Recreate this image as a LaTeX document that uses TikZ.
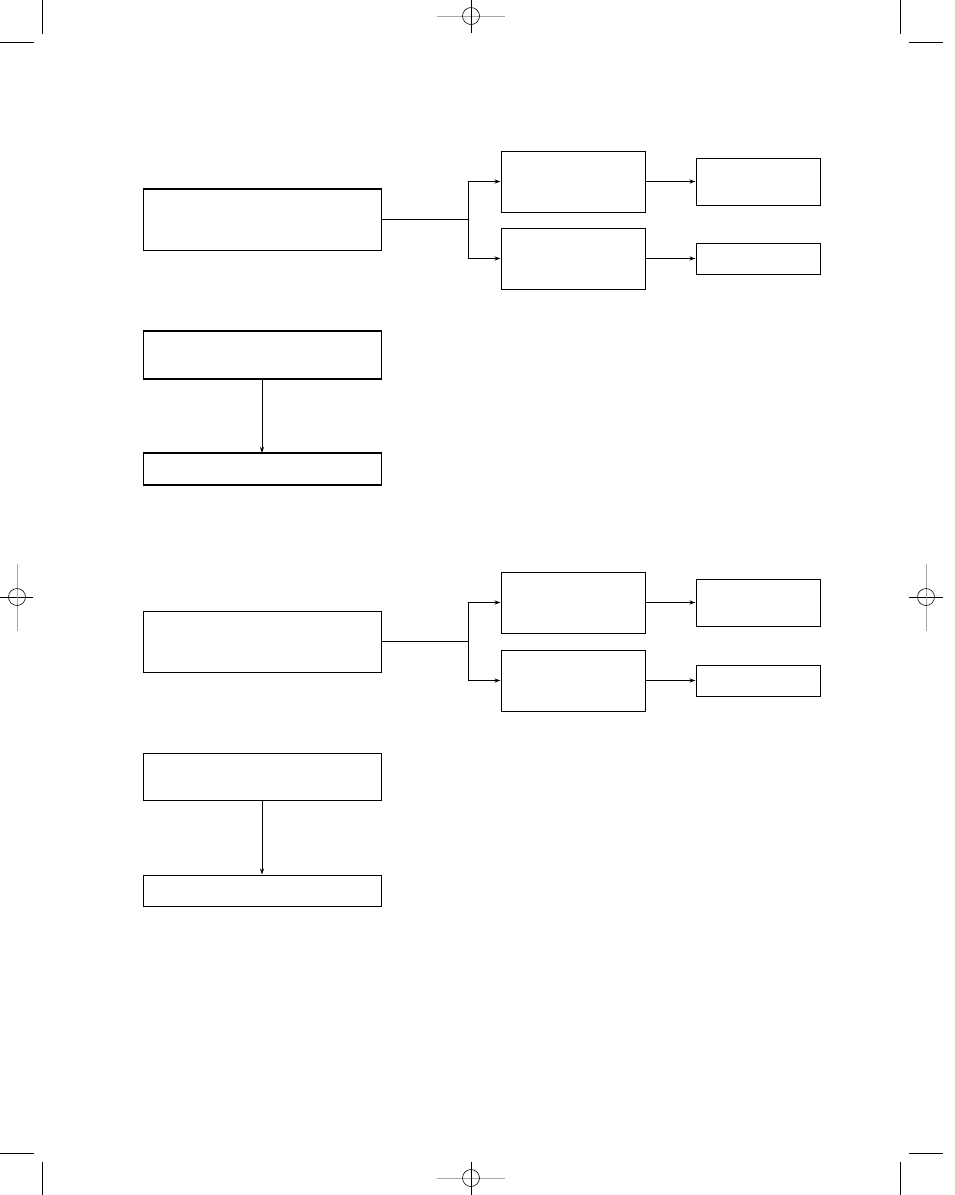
\documentclass[tikz,border=0pt]{standalone}
\usepackage{xcolor}
\usepackage{tikz}
\usetikzlibrary{arrows.meta, positioning, calc}

\begin{document}
\begin{tikzpicture}[
  x=1pt, y=-1pt,
  % ---- Box styles (empty rectangles, sized in px-like units) ----
  base/.style={draw, rectangle, inner sep=0pt, line width=1pt},
  wbox/.style={base, minimum width=238pt, minimum height=61pt},
  fbox/.style={base, minimum width=238pt, minimum height=47pt},
  sbox/.style={base, minimum width=238pt, minimum height=31pt},
  mbox/.style={base, minimum width=144pt, minimum height=61pt},
  tbox/.style={base, minimum width=124pt, minimum height=47pt},
  lbox/.style={base, minimum width=124pt, minimum height=31pt},
  % ---- Connector styles ----
  link/.style={line width=0.9pt},
  arr/.style ={link, -{Stealth[length=6pt, width=4pt]}},
  % ---- Print marks ----
  crop/.style={line width=0.9pt},
  regk/.style={line width=0.6pt, black},
  regg/.style={line width=0.6pt, gray!70},
]
\useasboundingbox (0,0) rectangle (954,1195);

% ---- Upper group ----
\node[wbox] (srcA)  at (262,219.5)   {};
\node[mbox] (midA)  at (573,181.5)   {};
\node[mbox] (midB)  at (573,258.5)   {};
\node[tbox] (endA)  at (758,181.5)   {};
\node[lbox] (endB)  at (758,258.5)   {};
\node[fbox] (topA)  at (262,355)     {};
\node[sbox] (botA)  at (262,469)     {};
% heavier top/bottom rules as printed
\draw[line width=2pt] (srcA.north west) -- (srcA.north east);
\draw[line width=1.6pt] (topA.north west) -- (topA.north east);
\draw[line width=1.6pt] (topA.south west) -- (topA.south east);
\draw[line width=1.6pt] (botA.north west) -- (botA.north east);
\draw[line width=1.6pt] (botA.south west) -- (botA.south east);

\coordinate (jA) at (468,219.5);
\draw[link] (srcA.east) -- (jA);
\draw[arr]  (jA) |- (midA.west);
\draw[arr]  (jA) |- (midB.west);
\draw[arr]  (midA.east) -- (endA.west);
\draw[arr]  (midB.east) -- (endB.west);
\draw[arr]  (topA.south) -- (botA.north);

% ---- Lower group ----
\node[wbox] (srcB)  at (262,641.5)   {};
\node[mbox] (midC)  at (573,602.5)   {};
\node[mbox] (midD)  at (573,680.5)   {};
\node[tbox] (endC)  at (758,602.5)   {};
\node[lbox] (endD)  at (758,680.5)   {};
\node[fbox] (topB)  at (262,776.5)   {};
\node[sbox] (botB)  at (262,890.5)   {};

\coordinate (jB) at (468,641.5);
\draw[link] (srcB.east) -- (jB);
\draw[arr]  (jB) |- (midC.west);
\draw[arr]  (jB) |- (midD.west);
\draw[arr]  (midC.east) -- (endC.west);
\draw[arr]  (midD.east) -- (endD.west);
\draw[arr]  (topB.south) -- (botB.north);

% ---- Crop marks ----
\draw[crop] (42,0) -- (42,34);     \draw[crop] (0,42) -- (34,42);
\draw[crop] (900,0) -- (900,34);   \draw[crop] (909,42) -- (943,42);
\draw[crop] (0,1153) -- (34,1153); \draw[crop] (42,1162) -- (42,1195);
\draw[crop] (909,1153) -- (943,1153); \draw[crop] (900,1162) -- (900,1195);

% ---- Registration marks ----
\draw[regg] (437,16) -- (505,16);  \draw[regk] (471,0) -- (471,33);
\draw[regk] (471,16) circle (8.5);
\draw[regg] (437,1178) -- (505,1178); \draw[regk] (471,1162) -- (471,1195);
\draw[regk] (471,1178) circle (8.5);
\draw[regk] (0,597) -- (33,597);   \draw[regg] (17,564) -- (17,631);
\draw[regk] (17,597) circle (8.5);
\draw[regk] (909,597) -- (943,597); \draw[regg] (926,564) -- (926,631);
\draw[regk] (926,597) circle (8.5);
\end{tikzpicture}
\end{document}
